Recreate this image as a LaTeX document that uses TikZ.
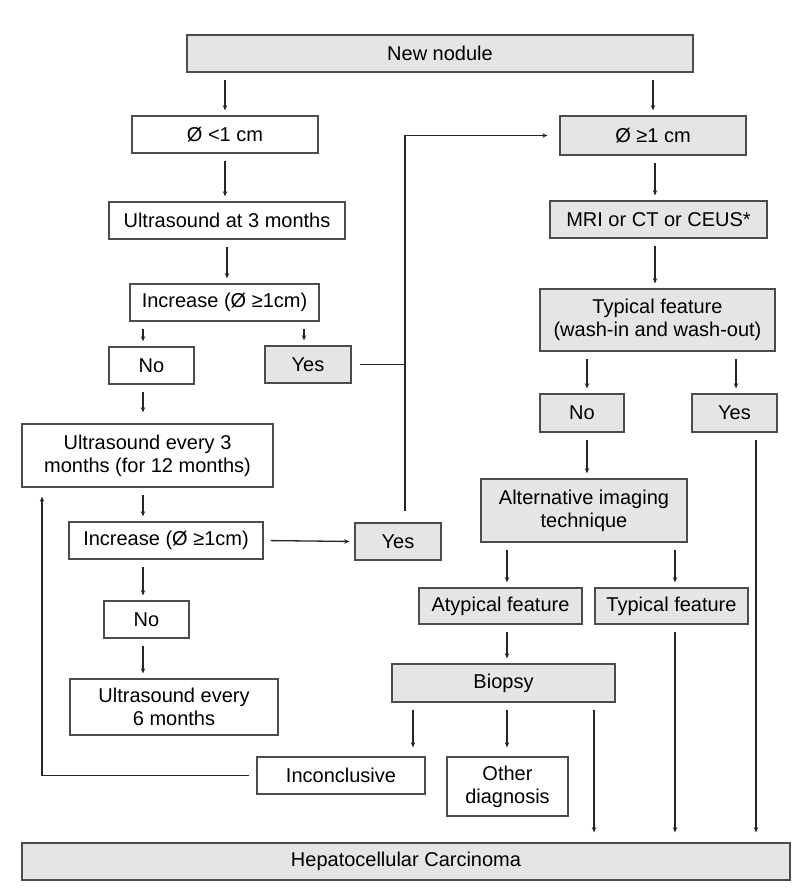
\documentclass[tikz,border=0pt]{standalone}
\usepackage{fontspec}
\setmainfont{Liberation Sans}
\usepackage{xcolor}
\usetikzlibrary{arrows.meta,positioning,calc}

\begin{document}
\begin{tikzpicture}[
  x=0.5pt, y=-0.5pt,
  box/.style={draw=black!70, line width=0.6pt, inner sep=0pt, minimum height=18.5pt, align=center,
    font=\fontsize{10}{11.5}\selectfont},
  wbox/.style={box, fill=white},
  gbox/.style={box, fill=black!10},
  arr/.style={draw=black!85, line width=0.65pt, -{Stealth[length=2.6pt,width=2.2pt]}, shorten <=3.5pt, shorten >=2.5pt},
  ln/.style={draw=black!85, line width=0.65pt}]
  \useasboundingbox (0,0) rectangle (812,893);
  % top
  \node[gbox, minimum width=253pt] (new) at (440,53.5) {New nodule};
  % left branch (small nodule)
  \node[wbox, minimum width=93pt]  (lt1)  at (225,134.5) {Ø <1 cm};
  \node[wbox, minimum width=118pt] (us3)  at (227,220.5) {Ultrasound at 3 months};
  \node[wbox, minimum width=94.5pt] (inc1) at (224.5,302.5) {Increase (Ø ≥1cm)};
  \node[wbox, minimum width=42.5pt] (no1)  at (151.5,365.5) {No};
  \node[gbox, minimum width=43pt]  (yes1) at (308,364.5) {Yes};
  \node[wbox, minimum width=125.5pt, minimum height=31.5pt] (us12) at (147.5,455.5) {Ultrasound every 3\\months (for 12 months)};
  \node[wbox, minimum width=97pt]  (inc2) at (166,540.5) {Increase (Ø ≥1cm)};
  \node[gbox, minimum width=43pt]  (yes2) at (398,541.5) {Yes};
  \node[wbox, minimum width=42.5pt] (no2)  at (146.5,619.5) {No};
  \node[wbox, minimum width=104pt, minimum height=28pt] (us6) at (174,707) {Ultrasound every\\6 months};
  % right branch (large nodule)
  \node[gbox, minimum width=93pt, minimum height=19.5pt] (ge1) at (653,135.5) {Ø ≥1 cm};
  \node[gbox, minimum width=108.5pt] (mri) at (658.5,219.5) {MRI or CT or CEUS*};
  \node[gbox, minimum width=117.5pt, minimum height=31pt] (typ) at (657.5,320) {Typical feature\\(wash-in and wash-out)};
  \node[gbox, minimum width=42pt, minimum height=19pt] (no3)  at (582,413) {No};
  \node[gbox, minimum width=42.5pt, minimum height=19pt] (yes3) at (734.5,413) {Yes};
  \node[gbox, minimum width=103pt, minimum height=31.5pt] (alt) at (584,510.5) {Alternative imaging\\technique};
  \node[gbox, minimum width=81.5pt, minimum height=18pt] (atyp) at (500.5,606) {Atypical feature};
  \node[gbox, minimum width=76.5pt, minimum height=18pt] (typf) at (671.5,606) {Typical feature};
  \node[gbox, minimum width=111.5pt, minimum height=19pt] (bio) at (503.5,683) {Biopsy};
  \node[wbox, minimum width=84pt]  (incon) at (341,775.5) {Inconclusive};
  \node[wbox, minimum width=60.5pt, minimum height=29.5pt] (other) at (507.5,786.5) {Other\\diagnosis};
  % bottom
  \node[gbox, minimum width=384pt] (hcc) at (406,861.5) {Hepatocellular Carcinoma};
  % arrows, left
  \draw[arr] (lt1.north |- new.south) -- (lt1.north);
  \draw[arr] (lt1.south) -- (lt1.south |- us3.north);
  \draw[arr] (us3.south) -- (us3.south |- inc1.north);
  \draw[arr] (inc1.south -| 143,0) -- (no1.north -| 143,0);
  \draw[arr] (inc1.south -| 304,0) -- (yes1.north -| 304,0);
  \draw[arr] (no1.south -| 143,0) -- ([yshift=3pt]us12.north -| 143,0);
  \draw[arr] (us12.south -| 143,0) -- (inc2.north -| 143,0);
  \draw[arr] (inc2.east) -- (yes2.west);
  \draw[arr] (inc2.south -| 143,0) -- (no2.north -| 143,0);
  \draw[arr] (no2.south -| 143,0) -- (us6.north -| 143,0);
  % loops back
  \draw[arr, shorten <=5.5pt, shorten >=6pt] (yes2.north -| 405,0) |- (ge1.west);
  \draw[ln, shorten <=4pt] (yes1.east) -- (yes1.east -| 405,0);
  \draw[arr, shorten >=4.5pt] (incon.west) -| (us12.south -| 42,0);
  % arrows, right
  \draw[arr] (ge1.north |- new.south) -- (ge1.north);
  \draw[arr] (ge1.south -| 655,0) -- (mri.north -| 655,0);
  \draw[arr] (mri.south -| 655,0) -- (typ.north -| 655,0);
  \draw[arr] (typ.south -| 587,0) -- (no3.north -| 587,0);
  \draw[arr] (typ.south -| 736,0) -- (yes3.north -| 736,0);
  \draw[arr] (no3.south -| 587,0) -- (alt.north -| 587,0);
  \draw[arr, shorten >=5pt] (yes3.south -| 756,0) -- (hcc.north -| 756,0);
  \draw[arr] (alt.south -| 507,0) -- (atyp.north -| 507,0);
  \draw[arr] (alt.south -| 675,0) -- (typf.north -| 675,0);
  \draw[arr] (atyp.south -| 507,0) -- (bio.north -| 507,0);
  \draw[arr, shorten >=5pt] (typf.south -| 675,0) -- (hcc.north -| 675,0);
  \draw[arr, shorten >=4.5pt] (bio.south -| 413,0) -- (incon.north -| 413,0);
  \draw[arr, shorten >=4.5pt] (bio.south -| 507,0) -- (other.north -| 507,0);
  \draw[arr, shorten >=5pt] (bio.south -| 594,0) -- (hcc.north -| 594,0);
\end{tikzpicture}
\end{document}
